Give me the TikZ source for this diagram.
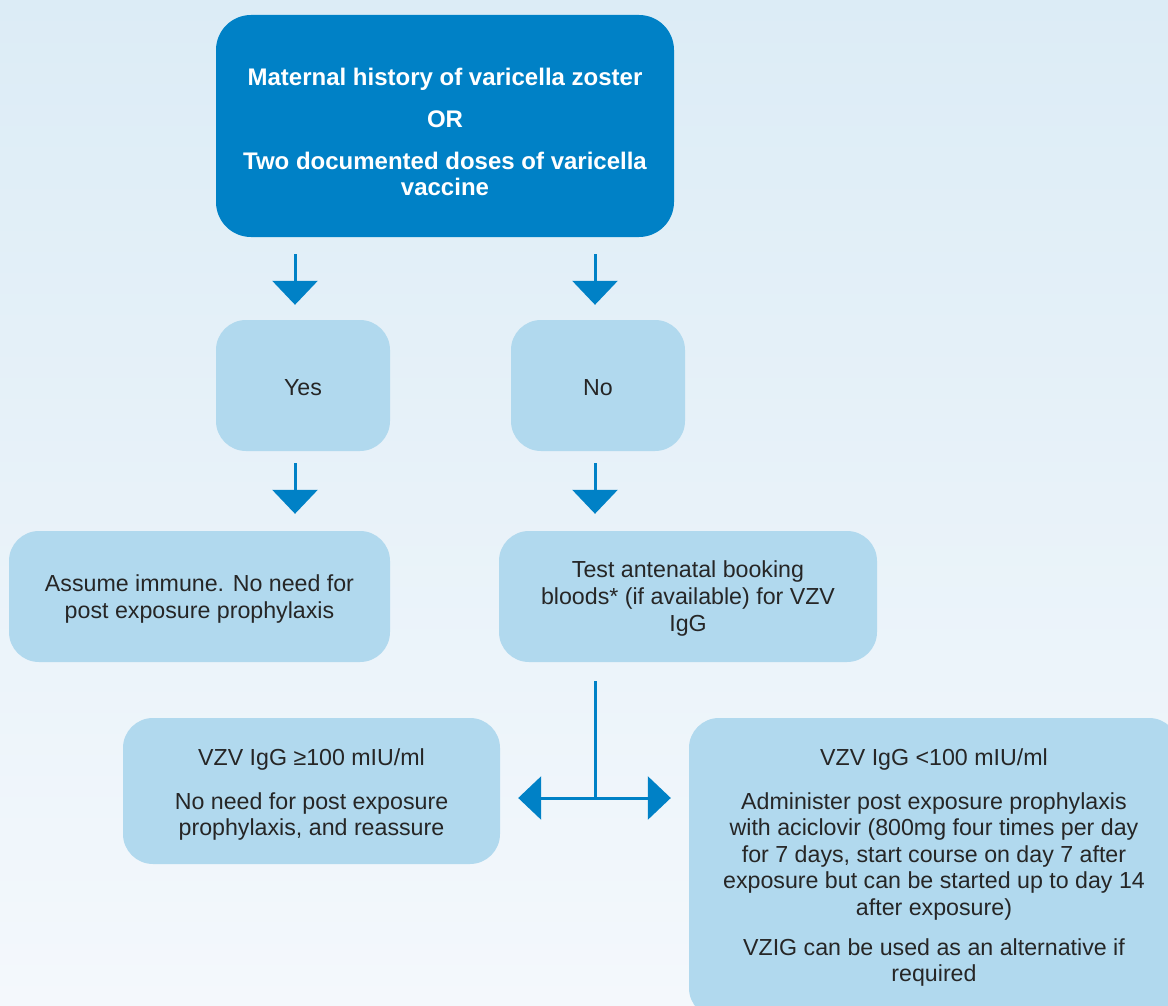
\documentclass[tikz,border=0pt]{standalone}
\usepackage{fontspec}
\setmainfont{Liberation Sans}
\usetikzlibrary{arrows.meta,calc}
\definecolor{bgtop}{HTML}{DCECF6}
\definecolor{bgbot}{HTML}{F4F8FC}
\definecolor{darkbox}{HTML}{0081C6}
\definecolor{lightbox}{HTML}{B1D9EE}
\definecolor{txt}{HTML}{262626}
\begin{document}
\begin{tikzpicture}[x=1pt,y=-1pt,
  lbox/.style={fill=lightbox, rounded corners=30pt, inner sep=0pt},
  dbox/.style={fill=darkbox, rounded corners=35pt, inner sep=0pt},
  ltext/.style={text=txt, align=center, inner sep=0pt, font=\fontsize{23.2}{26.6}\selectfont},
  dtext/.style={text=white, align=center, inner sep=0pt, font=\fontsize{24}{26}\selectfont\bfseries},
  conn/.style={draw=darkbox, line width=3pt, -{Triangle[length=24pt,width=45pt]}},
  hconn/.style={draw=darkbox, line width=3pt, -{Triangle[length=23pt,width=43pt]}},
  plain/.style={draw=darkbox, line width=3pt},
]
\clip (0,0) rectangle (1168,1006);
\shade[top color=bgtop, bottom color=bgbot] (0,0) rectangle (1168,1006);

\node[dbox, minimum width=458pt, minimum height=222pt] (top) at (445,126) {};
\node[dtext] (top-t) at ($(top)+(0,6)$)
  {Maternal history of varicella zoster\\[16pt]OR\\[16pt]Two documented doses of varicella\\vaccine};
\node[lbox, minimum width=174pt, minimum height=131pt] (yes) at (303,385.5) {};
\node[ltext] (yes-t) at ($(yes)+(0,2)$) {Yes};
\node[lbox, minimum width=174pt, minimum height=131pt] (no) at (598,385.5) {};
\node[ltext] (no-t) at ($(no)+(0,2)$) {No};
\node[lbox, minimum width=381pt, minimum height=131pt] (assume) at (199.5,596.5) {};
\node[ltext] (assume-t) at ($(assume)+(0,2.5)$) {Assume immune. No need for\\post exposure prophylaxis};
\node[lbox, minimum width=378pt, minimum height=131pt] (test) at (688,596.5) {};
\node[ltext] (test-t) at ($(test)+(0,2)$) {Test antenatal booking\\bloods* (if available) for VZV\\IgG};
\node[lbox, minimum width=377pt, minimum height=146pt] (ge) at (311.5,791) {};
\node[ltext] (ge-t) at ($(ge)+(0,3.5)$)
  {VZV IgG ≥100 mIU/ml\\[17pt]No need for post exposure\\prophylaxis, and reassure};
\node[lbox, minimum width=490pt, minimum height=300pt] (lt) at (934,868) {};
\node[ltext] (lt-t) at ($(lt)+(0,-0.5)$)
  {VZV IgG <100 mIU/ml\\[17pt]Administer post exposure prophylaxis\\with aciclovir (800mg four times per day\\for 7 days, start course on day 7 after\\exposure but can be started up to day 14\\after exposure)\\[13pt]VZIG can be used as an alternative if\\required};

\draw[conn, shorten <=17pt, shorten >=15pt] ([xshift=-8pt]yes.north |- top.south) -- ([xshift=-8pt]yes.north);
\draw[conn, shorten <=17pt, shorten >=15pt] ([xshift=-3pt]no.north |- top.south) -- ([xshift=-3pt]no.north);
\draw[conn, shorten <=12pt, shorten >=17pt] ([xshift=-8pt]yes.south) -- ([xshift=-8pt]yes.south |- assume.north);
\draw[conn, shorten <=12pt, shorten >=17pt] ([xshift=-3pt]no.south) -- ([xshift=-3pt]no.south |- test.north);

\coordinate (split) at (595,798);
\draw[plain, shorten <=19pt] (test.south -| split) -- (split);
\draw[hconn, shorten >=18pt] (split) -- (ge.east |- split);
\draw[hconn, shorten >=18pt] (split) -- (lt.west |- split);
\end{tikzpicture}
\end{document}
